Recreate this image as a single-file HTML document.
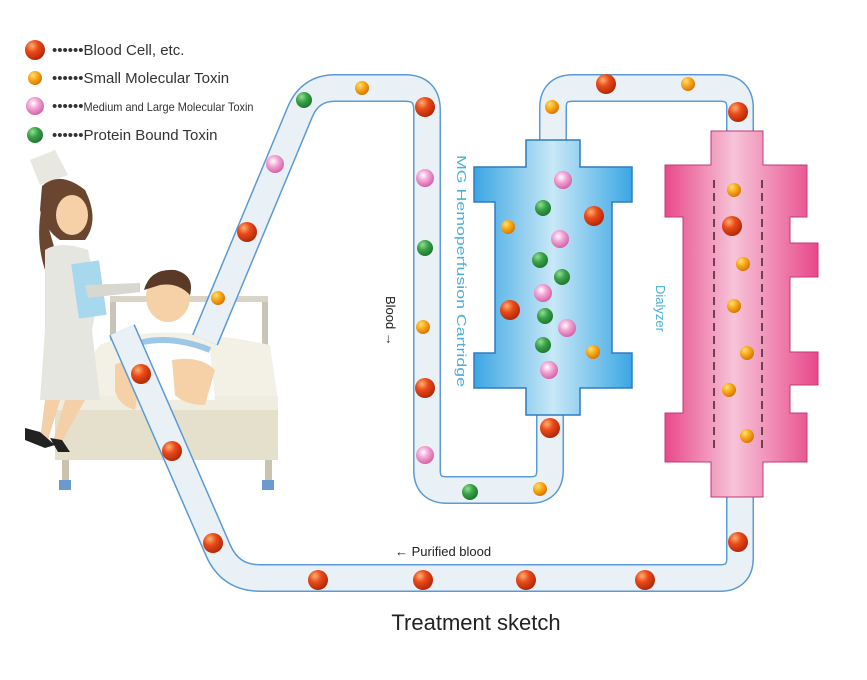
<!DOCTYPE html>
<html><head><meta charset="utf-8"><style>
body{margin:0;background:#fff;width:867px;height:680px;overflow:hidden}
svg{display:block;font-family:"Liberation Sans",sans-serif}
</style></head><body>
<svg width="867" height="680" viewBox="0 0 867 680" xmlns="http://www.w3.org/2000/svg">
<defs>
<radialGradient id="r" cx="35%" cy="30%" r="70%"><stop offset="0" stop-color="#ffb070"/><stop offset=".45" stop-color="#ea4a1a"/><stop offset="1" stop-color="#b42a08"/></radialGradient>
<radialGradient id="o" cx="35%" cy="30%" r="70%"><stop offset="0" stop-color="#ffe070"/><stop offset=".5" stop-color="#f8a818"/><stop offset="1" stop-color="#d87808"/></radialGradient>
<radialGradient id="p" cx="40%" cy="35%" r="70%"><stop offset="0" stop-color="#ffffff"/><stop offset=".4" stop-color="#f4a8d8"/><stop offset="1" stop-color="#d05aa0"/></radialGradient>
<radialGradient id="g" cx="35%" cy="30%" r="70%"><stop offset="0" stop-color="#90e090"/><stop offset=".5" stop-color="#3aa048"/><stop offset="1" stop-color="#1f7a30"/></radialGradient>
<linearGradient id="bl" x1="0" x2="1"><stop offset="0" stop-color="#3aa6e4"/><stop offset=".5" stop-color="#c8e8f6"/><stop offset="1" stop-color="#3aa6e4"/></linearGradient>
<linearGradient id="pk" x1="0" x2="1"><stop offset="0" stop-color="#e8488a"/><stop offset=".45" stop-color="#f6c4d8"/><stop offset="1" stop-color="#e8488a"/></linearGradient>
</defs>

<!-- bed -->
<rect x="110" y="300" width="6" height="90" fill="#c8c4b8"/>
<rect x="262" y="300" width="6" height="90" fill="#c8c4b8"/>
<rect x="110" y="296" width="158" height="6" fill="#d8d4c8"/>
<rect x="62" y="455" width="7" height="30" fill="#c8c4b0"/>
<rect x="265" y="455" width="7" height="30" fill="#c8c4b0"/>
<rect x="59" y="480" width="12" height="10" fill="#6a9ad0"/>
<rect x="262" y="480" width="12" height="10" fill="#6a9ad0"/>
<path d="M100 345 Q150 320 270 345 L278 400 L60 400 Z" fill="#f3f1e6"/>
<path d="M55 398 L278 398 L278 460 L55 460 Z" fill="#e4e0cc"/>
<rect x="55" y="396" width="223" height="14" fill="#efede0"/>
<!-- patient -->
<ellipse cx="168" cy="297" rx="22" ry="25" fill="#f6d0a6"/>
<path d="M144 290 Q150 268 175 270 Q195 275 190 295 Q178 282 160 285 Z" fill="#5a3a26"/>
<path d="M120 350 Q160 325 210 350 L215 400 L130 400 Z" fill="#fff"/>
<path d="M120 350 Q160 330 210 350" stroke="#9cc8e8" stroke-width="6" fill="none"/>
<path d="M172 360 Q200 355 215 370 L205 405 Q185 405 175 395 Z" fill="#f6d0a6"/>
<path d="M115 365 Q130 355 140 380 L135 410 Q118 405 115 390 Z" fill="#f6d0a6"/>
<!-- nurse -->
<path d="M30 160 L55 150 L68 175 L40 185 Z" fill="#e8e8e0"/>
<path d="M42 186 Q60 170 85 190 Q100 220 85 240 L60 240 Q45 230 40 210 Z" fill="#6a4630"/>
<ellipse cx="72" cy="215" rx="16" ry="20" fill="#f6d0a6"/>
<path d="M42 205 Q35 240 45 270 L55 250 Z" fill="#6a4630"/>
<path d="M45 250 Q60 240 88 250 L98 300 L92 330 L100 400 L40 400 L45 330 Z" fill="#e6e6e0"/>
<rect x="75" y="262" width="28" height="55" fill="#a8d8ee" transform="rotate(-8 89 290)"/>
<path d="M85 285 L140 283 L140 292 L88 298 Z" fill="#d8d8d0"/>
<path d="M45 400 L60 400 L48 440 L40 440 Z M65 400 L85 400 L60 445 L52 445 Z" fill="#f3d0a8"/>
<path d="M25 428 L40 432 L55 445 L45 448 L25 440 Z M50 438 L62 440 L70 452 L58 452 Z" fill="#222"/>

<!-- tubes -->
<g fill="none" stroke-linejoin="round">
<g stroke="#5a9ad6" stroke-width="28">
<path d="M205 340 L300 112 Q310 88 335 88 L405 88 Q427 88 427 110 L427 470 Q427 490 447 490 L530 490 Q550 490 550 470 L550 415"/>
<path d="M553 140 L553 108 Q553 88 573 88 L720 88 Q740 88 740 108 L740 131"/>
<path d="M740 497 L740 558 Q740 578 720 578 L260 578 Q230 578 218 550 L122 330"/>
</g>
<g stroke="#e9f1f6" stroke-width="25">
<path d="M205 340 L300 112 Q310 88 335 88 L405 88 Q427 88 427 110 L427 470 Q427 490 447 490 L530 490 Q550 490 550 470 L550 415"/>
<path d="M553 140 L553 108 Q553 88 573 88 L720 88 Q740 88 740 108 L740 131"/>
<path d="M740 497 L740 558 Q740 578 720 578 L260 578 Q230 578 218 550 L122 330"/>
</g>
</g>

<!-- cartridge -->
<path d="M526 140 L580 140 L580 167 L632 167 L632 202 L612 202 L612 353 L632 353 L632 388 L580 388 L580 415 L526 415 L526 388 L474 388 L474 353 L495 353 L495 202 L474 202 L474 167 L526 167 Z" fill="url(#bl)" stroke="#2f7cc0" stroke-width="1.5"/>
<!-- dialyzer -->
<path d="M711 131 L763 131 L763 165 L807 165 L807 217 L790 217 L790 243 L818 243 L818 277 L790 277 L790 352 L818 352 L818 385 L790 385 L790 413 L807 413 L807 462 L763 462 L763 497 L711 497 L711 462 L665 462 L665 413 L683 413 L683 217 L665 217 L665 165 L711 165 Z" fill="url(#pk)" stroke="#c03a7a" stroke-width="1"/>
<line x1="714" y1="180" x2="714" y2="450" stroke="#704050" stroke-width="2" stroke-dasharray="8,5"/>
<line x1="762" y1="180" x2="762" y2="450" stroke="#704050" stroke-width="2" stroke-dasharray="8,5"/>

<!-- balls -->
<g>
<circle cx="35" cy="50" r="10" fill="url(#r)"/><circle cx="35" cy="78" r="7" fill="url(#o)"/><circle cx="35" cy="106" r="9" fill="url(#p)"/><circle cx="35" cy="135" r="8" fill="url(#g)"/>
<circle cx="304" cy="100" r="8" fill="url(#g)"/><circle cx="362" cy="88" r="7" fill="url(#o)"/><circle cx="425" cy="107" r="10" fill="url(#r)"/><circle cx="425" cy="178" r="9" fill="url(#p)"/><circle cx="425" cy="248" r="8" fill="url(#g)"/><circle cx="423" cy="327" r="7" fill="url(#o)"/><circle cx="425" cy="388" r="10" fill="url(#r)"/><circle cx="425" cy="455" r="9" fill="url(#p)"/><circle cx="470" cy="492" r="8" fill="url(#g)"/><circle cx="540" cy="489" r="7" fill="url(#o)"/><circle cx="550" cy="428" r="10" fill="url(#r)"/>
<circle cx="552" cy="107" r="7" fill="url(#o)"/><circle cx="606" cy="84" r="10" fill="url(#r)"/><circle cx="688" cy="84" r="7" fill="url(#o)"/><circle cx="738" cy="112" r="10" fill="url(#r)"/>
<circle cx="738" cy="542" r="10" fill="url(#r)"/><circle cx="318" cy="580" r="10" fill="url(#r)"/><circle cx="423" cy="580" r="10" fill="url(#r)"/><circle cx="526" cy="580" r="10" fill="url(#r)"/><circle cx="645" cy="580" r="10" fill="url(#r)"/><circle cx="213" cy="543" r="10" fill="url(#r)"/><circle cx="172" cy="451" r="10" fill="url(#r)"/><circle cx="141" cy="374" r="10" fill="url(#r)"/>
<circle cx="218" cy="298" r="7" fill="url(#o)"/><circle cx="247" cy="232" r="10" fill="url(#r)"/><circle cx="275" cy="164" r="9" fill="url(#p)"/>
<circle cx="563" cy="180" r="9" fill="url(#p)"/><circle cx="543" cy="208" r="8" fill="url(#g)"/><circle cx="594" cy="216" r="10" fill="url(#r)"/><circle cx="508" cy="227" r="7" fill="url(#o)"/><circle cx="560" cy="239" r="9" fill="url(#p)"/><circle cx="540" cy="260" r="8" fill="url(#g)"/><circle cx="562" cy="277" r="8" fill="url(#g)"/><circle cx="543" cy="293" r="9" fill="url(#p)"/><circle cx="510" cy="310" r="10" fill="url(#r)"/><circle cx="545" cy="316" r="8" fill="url(#g)"/><circle cx="567" cy="328" r="9" fill="url(#p)"/><circle cx="543" cy="345" r="8" fill="url(#g)"/><circle cx="593" cy="352" r="7" fill="url(#o)"/><circle cx="549" cy="370" r="9" fill="url(#p)"/>
<circle cx="734" cy="190" r="7" fill="url(#o)"/><circle cx="732" cy="226" r="10" fill="url(#r)"/><circle cx="743" cy="264" r="7" fill="url(#o)"/><circle cx="734" cy="306" r="7" fill="url(#o)"/><circle cx="747" cy="353" r="7" fill="url(#o)"/><circle cx="729" cy="390" r="7" fill="url(#o)"/><circle cx="747" cy="436" r="7" fill="url(#o)"/>
</g>

<!-- text -->
<g fill="#333" font-size="15">
<text x="52" y="55">••••••Blood Cell, etc.</text>
<text x="52" y="83">••••••Small Molecular Toxin</text>
<text x="52" y="111"><tspan>••••••</tspan><tspan font-size="12" textLength="170" lengthAdjust="spacingAndGlyphs">Medium and Large Molecular Toxin</tspan></text>
<text x="52" y="140">••••••Protein Bound Toxin</text>
</g>
<text x="0" y="0" transform="translate(457 155) rotate(90)" font-size="13" fill="#4ab0d8" textLength="232" lengthAdjust="spacingAndGlyphs">MG Hemoperfusion Cartridge</text>
<text x="0" y="0" transform="translate(656 285) rotate(90)" font-size="13" fill="#4ab0d8">Dialyzer</text>
<text x="0" y="0" transform="translate(386 296) rotate(90)" font-size="13" fill="#222">Blood →</text>
<text x="395" y="556" font-size="13" fill="#222">← Purified blood</text>
<text x="476" y="630" font-size="22" fill="#222" text-anchor="middle">Treatment sketch</text>
</svg>
</body></html>
